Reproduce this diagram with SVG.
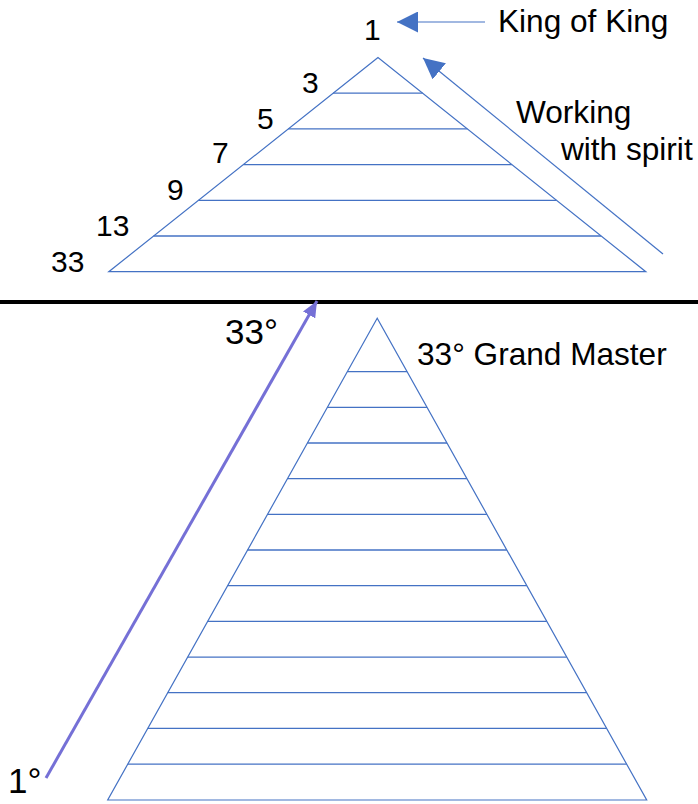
<svg xmlns="http://www.w3.org/2000/svg" width="698" height="804" viewBox="0 0 698 804">
<style>
  .tri { fill: none; stroke: #4472C4; stroke-width: 1.2; stroke-linejoin: miter; }
  .tier { stroke: #4472C4; stroke-width: 1.3; }
  .t { font-family: "Liberation Sans", Arial, sans-serif; fill: #000; }
  .blue { stroke: #4472C4; stroke-width: 1.2; fill: none; }
  .purple { stroke: #7570D6; stroke-width: 3; fill: none; }
</style>
<defs>
  <marker id="ahBlue" markerUnits="userSpaceOnUse" viewBox="0 0 21 21" refX="21" refY="10.5" markerWidth="21" markerHeight="21" orient="auto">
    <path d="M0,0 L21,10.5 L0,21 Z" fill="#4472C4"/>
  </marker>
  <marker id="ahPurple" markerUnits="userSpaceOnUse" viewBox="0 0 16 14" refX="16" refY="7" markerWidth="16" markerHeight="14" orient="auto">
    <path d="M0,0 L16,7 L0,14 Z" fill="#7570D6"/>
  </marker>
</defs>
<rect width="698" height="804" fill="#fff"/>

<g id="top-pyramid">
  <path class="tri" d="M378,57.5 L108.8,271.7 L645.8,271.7 Z"/>
  <line class="tier" x1="333.1" y1="93.2" x2="422.6" y2="93.2"/>
  <line class="tier" x1="288.3" y1="128.9" x2="467.3" y2="128.9"/>
  <line class="tier" x1="243.4" y1="164.6" x2="511.9" y2="164.6"/>
  <line class="tier" x1="198.5" y1="200.3" x2="556.5" y2="200.3"/>
  <line class="tier" x1="153.6" y1="236" x2="601.1" y2="236"/>
</g>

<g id="top-labels">
  <text class="t" x="364" y="40" font-size="30">1</text>
  <text class="t" x="302" y="93" font-size="30">3</text>
  <text class="t" x="257" y="129" font-size="30">5</text>
  <text class="t" x="212" y="163" font-size="30">7</text>
  <text class="t" x="167" y="200" font-size="30">9</text>
  <text class="t" x="96" y="236" font-size="30">13</text>
  <text class="t" x="51" y="272" font-size="30">33</text>
  <text class="t" x="498" y="32" font-size="31.6">King of King</text>
  <text class="t" x="516" y="123" font-size="31.6">Working</text>
  <text class="t" x="561" y="160" font-size="31.6">with spirit</text>
</g>

<g id="separator">
  <line x1="0" y1="302" x2="698" y2="302" stroke="#000" stroke-width="4"/>
</g>

<g id="bottom-pyramid">
  <path class="tri" d="M377.2,318.3 L107.7,800 L646.7,800 Z"/>
  <line class="tier" x1="347.3" y1="371.7" x2="407.1" y2="371.7"/>
  <line class="tier" x1="327.4" y1="407.4" x2="427.0" y2="407.4"/>
  <line class="tier" x1="307.4" y1="443.0" x2="447.0" y2="443.0"/>
  <line class="tier" x1="287.5" y1="478.7" x2="466.9" y2="478.7"/>
  <line class="tier" x1="267.5" y1="514.4" x2="486.9" y2="514.4"/>
  <line class="tier" x1="247.6" y1="550.0" x2="506.8" y2="550.0"/>
  <line class="tier" x1="227.6" y1="585.7" x2="526.8" y2="585.7"/>
  <line class="tier" x1="207.7" y1="621.4" x2="546.8" y2="621.4"/>
  <line class="tier" x1="187.7" y1="657.1" x2="566.7" y2="657.1"/>
  <line class="tier" x1="167.8" y1="692.7" x2="586.6" y2="692.7"/>
  <line class="tier" x1="147.8" y1="728.4" x2="606.6" y2="728.4"/>
  <line class="tier" x1="127.8" y1="764.1" x2="626.6" y2="764.1"/>
</g>

<g id="bottom-labels">
  <text class="t" x="225" y="344" font-size="35">33°</text>
  <text class="t" x="417" y="365" font-size="31.6">33° Grand Master</text>
  <text class="t" x="8" y="793" font-size="35">1°</text>
</g>

<g id="connectors">
  <line class="blue" x1="485" y1="22" x2="397" y2="22" marker-end="url(#ahBlue)"/>
  <line class="blue" x1="663" y1="254" x2="423" y2="58" marker-end="url(#ahBlue)"/>
  <line class="purple" x1="46" y1="778" x2="317" y2="301" marker-end="url(#ahPurple)"/>
</g>
</svg>
